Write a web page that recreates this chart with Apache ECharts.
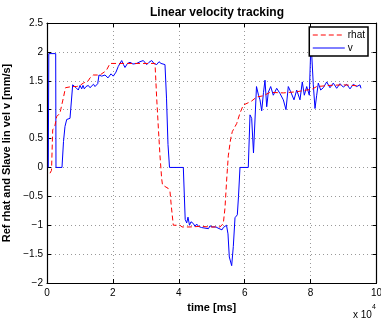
<!DOCTYPE html>
<html>
<head>
<meta charset="utf-8">
<script src="https://cdn.jsdelivr.net/npm/echarts@6/dist/echarts.min.js"></script>
<style>
  html, body { margin: 0; padding: 0; background: #fff; }
  #main { width: 381px; height: 320px; }
</style>
</head>
<body>
<div id="main"></div>
<script>
// time in ms, values in mm/s
const vTime = [390, 550, 2640, 2730, 4550, 5010, 5460, 5980, 6980, 7800, 8290, 8800, 9500, 10020, 10530, 10930,
  11320, 11840, 12530, 13050, 13570, 14110, 14570, 15390, 15780, 16600, 17150, 17600, 18510, 19420, 20120, 20940,
  21640, 22670, 23220, 23670, 24430, 25190, 26100, 27220, 28220, 29230, 30260, 30960, 31780, 32470, 33290, 33990,
  34600, 35200, 35810, 36270, 36720, 37180, 41370, 41940, 42400, 42790, 43250, 43700, 44400, 44920, 45430, 45980,
  46430, 46890, 47440, 47950, 48470, 49010, 49470, 50080, 50680, 51290, 51900, 52500, 53110, 53510, 53870, 54480,
  54930, 55330, 56050, 56540, 57060, 57760, 58120, 58570, 61090, 61610, 62120, 62670, 63580, 64190, 64640, 65160,
  65710, 66160, 66680, 67160, 67890, 68680, 69710, 70710, 71720, 72530, 73230, 73960, 74960, 75780, 76780, 77480,
  78090, 78820, 79610, 80120, 80820, 81340, 81850, 82340, 83060, 83860, 84890, 85890, 86890, 87920, 88920, 89930,
  90960, 91960, 92960, 93990, 94990, 95300];
const vValue = [0, 1.97, 1.97, 0, 0, 0.45, 0.71, 0.83, 0.85, 1.43, 1.46, 1.38, 1.34, 1.42, 1.36, 1.42,
  1.36, 1.40, 1.42, 1.38, 1.38, 1.44, 1.40, 1.45, 1.60, 1.58, 1.55, 1.60, 1.55, 1.62, 1.58, 1.65,
  1.75, 1.85, 1.78, 1.73, 1.80, 1.82, 1.79, 1.80, 1.83, 1.85, 1.78, 1.82, 1.85, 1.80, 1.78, 1.83,
  1.80, 1.82, 1.78, 1.2, 0.4, 0, 0, -0.90, -0.96, -0.86, -1.0, -0.94, -0.97, -1.02, -0.98, -1.02,
  -0.99, -1.04, -1.02, -1.05, -1.03, -1.06, -1.01, -1.03, -1.06, -1.03, -1.05, -1.02, -1.08, -1.04, -1.02, -1.0,
  -1.15, -1.55, -1.70, -1.37, -0.87, -0.82, -0.5, 0, 0, 0.91, 0.85, 0.25, 1.40, 1.25, 1.17, 0.98,
  1.30, 1.51, 1.05, 1.30, 1.40, 1.25, 1.37, 1.28, 1.17, 1.0, 1.40, 1.31, 1.17, 1.34, 1.17, 1.48,
  1.25, 1.40, 1.25, 2.2, 1.43, 1.02, 1.25, 1.46, 1.34, 1.38, 1.48, 1.38, 1.46, 1.37, 1.45, 1.39,
  1.44, 1.36, 1.44, 1.40, 1.43, 1.37];

const rTime = [910, 1370, 1730, 2430, 2940, 3950, 4160, 4460, 4950, 5610, 6070, 7500, 9010, 10020, 11020, 12530,
  13050, 14050, 16080, 17600, 18210, 19120, 32780, 33290, 33780, 34290, 34810, 35050, 35810, 36720, 37330, 37780,
  38330, 40360, 40970, 43400, 46430, 49470, 52500, 53510, 54020, 54540, 55020, 55750, 56240, 57570, 58570, 59580,
  61090, 62120, 63640, 65650, 67680, 71720, 75780, 78820, 80330, 81850, 85890, 89930, 94990];
const rValue = [-0.1, -0.05, 0.65, 0.73, 0.88, 0.94, 1.0, 0.97, 1.2, 1.38, 1.40, 1.40, 1.40, 1.42, 1.46, 1.5,
  1.55, 1.6, 1.6, 1.66, 1.70, 1.8, 1.8, 1.2, 0.7, 0.2, -0.2, -0.3, -0.33, -0.36, -0.42, -0.7,
  -1.0, -1.0, -1.03, -1.03, -1.02, -1.03, -1.03, -0.97, -0.7, -0.2, 0.2, 0.5, 0.62, 0.76, 0.94, 1.08,
  1.12, 1.15, 1.22, 1.24, 1.3, 1.29, 1.31, 1.34, 1.35, 1.4, 1.42, 1.43, 1.41];

const xTicks = [0, 20000, 40000, 60000, 80000, 100000];
const yTicks = [-2, -1.5, -1, -0.5, 0, 0.5, 1, 1.5, 2, 2.5];

const font = "'Liberation Sans', Arial, sans-serif";

const zip = (a, b) => a.map((t, i) => [t, b[i]]);
const minusFmt = v => (v < 0 ? "\u2212" + Math.abs(v) : String(v));

const gridLine = {
  show: true,
  lineStyle: { color: "#999", type: [1, 3], width: 1 }
};

const chart = echarts.init(document.getElementById("main"), null, { renderer: "canvas" });

const option = {
  animation: false,
  backgroundColor: "#fff",
  title: {
    text: "Linear velocity tracking",
    left: 212,
    top: 2,
    textAlign: "center",
    textStyle: { fontFamily: font, fontSize: 12, fontWeight: "bold", color: "#000" }
  },
  legend: {
    right: 13,
    top: 27,
    orient: "vertical",
    align: "left",
    backgroundColor: "#fff",
    borderColor: "#000",
    borderWidth: 1.5,
    borderRadius: 0,
    padding: [3, 3, 3, 3],
    itemGap: 3,
    itemWidth: 32,
    itemHeight: 9,
    // hide the marker dot drawn in the middle of each legend line
    itemStyle: { color: "rgba(0,0,0,0)", borderWidth: 0, opacity: 0 },
    lineStyle: { width: 1 },
    textStyle: { fontFamily: font, fontSize: 10, color: "#000", padding: [0, 0, 0, -2] },
    data: ["rhat", "v"]
  },
  grid: {
    left: 47,
    right: 4.5,
    top: 23,
    bottom: 37,
    outerBoundsMode: "none",
    containLabel: false
  },
  xAxis: [
    {
      type: "value",
      min: 0,
      max: 100000,
      interval: 20000,
      name: "time [ms]",
      nameLocation: "middle",
      nameGap: 16,
      nameTextStyle: { fontFamily: font, fontSize: 11, fontWeight: "bold", color: "#000" },
      axisLine: { show: true, onZero: false, lineStyle: { color: "#000", width: 1.2 } },
      axisTick: { show: true, inside: true, length: 4, lineStyle: { color: "#000" } },
      axisLabel: {
        fontFamily: font, fontSize: 10, color: "#000", margin: 5,
        customValues: xTicks,
        formatter: v => String(v / 10000)
      },
      splitLine: gridLine
    },
    {
      type: "value",
      position: "top",
      min: 0,
      max: 100000,
      interval: 20000,
      axisLine: { show: true, onZero: false, lineStyle: { color: "#000", width: 1.2 } },
      axisTick: { show: true, inside: true, length: 4, lineStyle: { color: "#000" } },
      axisLabel: { show: false },
      splitLine: { show: false }
    }
  ],
  yAxis: [
    {
      type: "value",
      min: -2,
      max: 2.5,
      interval: 0.5,
      name: "Ref rhat and Slave lin vel v [mm/s]",
      nameLocation: "middle",
      nameGap: 28,
      nameTextStyle: { fontFamily: font, fontSize: 11, fontWeight: "bold", color: "#000" },
      axisLine: { show: true, onZero: false, lineStyle: { color: "#000", width: 1.2 } },
      axisTick: { show: true, inside: true, length: 4, lineStyle: { color: "#000" } },
      axisLabel: {
        fontFamily: font, fontSize: 10, color: "#000", margin: 4,
        customValues: yTicks,
        formatter: minusFmt
      },
      splitLine: gridLine
    },
    {
      type: "value",
      position: "right",
      min: -2,
      max: 2.5,
      interval: 0.5,
      axisLine: { show: true, onZero: false, lineStyle: { color: "#000", width: 1.2 } },
      axisTick: { show: true, inside: true, length: 4, lineStyle: { color: "#000" } },
      axisLabel: { show: false },
      splitLine: { show: false }
    }
  ],
  graphic: [
    {
      type: "text",
      left: 353,
      top: 304,
      style: {
        text: "{a|x 10}{s|4}",
        rich: {
          a: { fontFamily: font, fontSize: 10, color: "#000", verticalAlign: "bottom", padding: [6, 0, 0, 0] },
          s: { fontFamily: font, fontSize: 7, color: "#000", verticalAlign: "top" }
        }
      }
    }
  ],
  series: [
    {
      name: "rhat",
      type: "line",
      data: zip(rTime, rValue),
      showSymbol: false,
      symbol: "none",
      z: 3,
      lineStyle: { color: "#ff0000", width: 1, type: [5, 3] },
      itemStyle: { color: "#ff0000" }
    },
    {
      name: "v",
      type: "line",
      data: zip(vTime, vValue),
      showSymbol: false,
      symbol: "none",
      z: 2,
      lineStyle: { color: "#0000ff", width: 1 },
      itemStyle: { color: "#0000ff" }
    }
  ]
};

chart.setOption(option);
</script>
</body>
</html>
